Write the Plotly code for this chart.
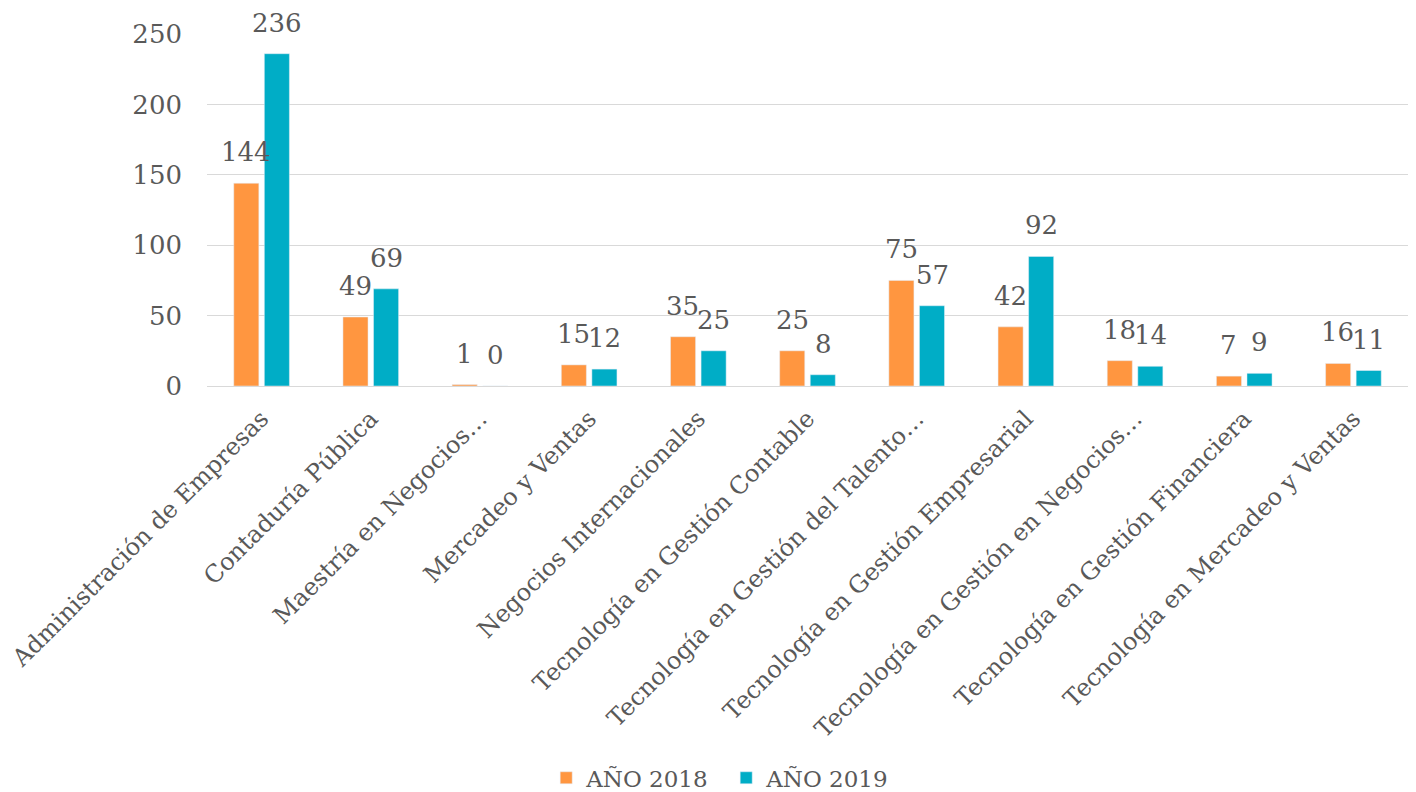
import plotly.graph_objects as go

programas = [
    "Administración de Empresas",
    "Contaduría Pública",
    "Maestría en Negocios…",
    "Mercadeo y Ventas",
    "Negocios Internacionales",
    "Tecnología en Gestión Contable",
    "Tecnología en Gestión del Talento…",
    "Tecnología en Gestión Empresarial",
    "Tecnología en Gestión en Negocios…",
    "Tecnología en Gestión Financiera",
    "Tecnología en Mercadeo y Ventas",
]
anio_2018 = [144, 49, 1, 15, 35, 25, 75, 42, 18, 7, 16]
anio_2019 = [236, 69, 0, 12, 25, 8, 57, 92, 14, 9, 11]

FONT = "DejaVu Serif"
GRIS = "#595959"

fig = go.Figure()
fig.add_trace(go.Bar(x=programas, y=anio_2018, name="AÑO 2018",
                     marker=dict(color="#FF9640")))
fig.add_trace(go.Bar(x=programas, y=anio_2019, name="AÑO 2019",
                     marker=dict(color="#00ADC6")))

# etiquetas de datos sobre cada barra
for serie, desplaz in ((anio_2018, -15.5), (anio_2019, 15.5)):
    for prog, val in zip(programas, serie):
        fig.add_annotation(x=prog, y=val, text=str(val), showarrow=False,
                           xshift=desplaz, yshift=14, yanchor="bottom",
                           font=dict(family=FONT, size=26, color=GRIS))

fig.update_layout(
    barmode="group", bargap=0.44, bargroupgap=0.18,
    width=1400, height=792,
    margin=dict(l=199, r=0, t=26, b=414),
    plot_bgcolor="white", paper_bgcolor="white",
    font=dict(family=FONT, size=24, color=GRIS),
    legend=dict(orientation="h", xref="container", x=0.513, xanchor="center",
                yref="container", y=0.028, yanchor="middle",
                entrywidth=135,
                font=dict(family=FONT, size=23, color=GRIS)),
)
fig.update_xaxes(tickangle=-45, showgrid=False, showline=True, linecolor="#D9D9D9",
                 automargin=False, ticklabelstandoff=8,
                 tickfont=dict(family=FONT, size=24, color=GRIS))
fig.update_yaxes(range=[0, 250], dtick=50, gridcolor="#D9D9D9", zeroline=False,
                 ticks="", ticklabelstandoff=24, automargin=False,
                 tickfont=dict(family=FONT, size=26, color=GRIS))

fig.write_html("out.html")
